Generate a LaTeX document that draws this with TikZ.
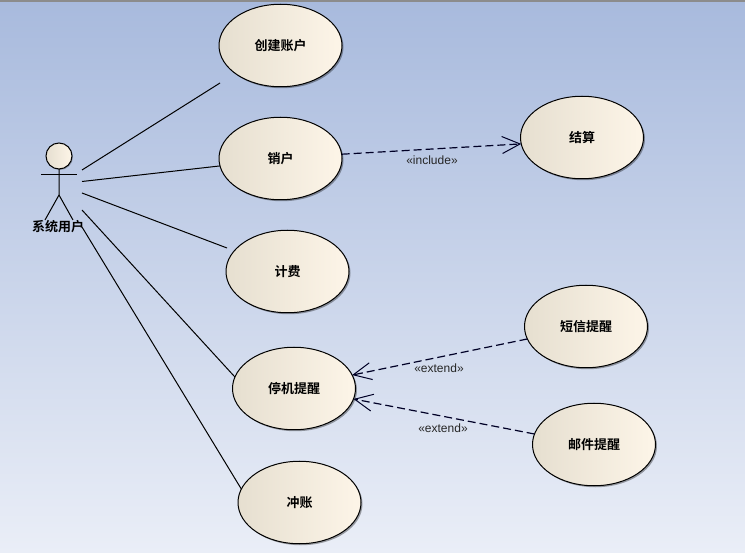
\documentclass[tikz,border=0pt]{standalone}
\usepackage{fontspec}
\setmainfont{Liberation Sans}
\newfontfamily\cjkbold[BoldFont={Noto Sans CJK SC Bold}]{Noto Sans CJK SC}
\usetikzlibrary{arrows.meta}
\usetikzlibrary{shadows}
\usetikzlibrary{shapes.geometric}
\definecolor{bgtop}{HTML}{A8BADD}
\definecolor{bgbot}{HTML}{EAEEF7}
\definecolor{caseleft}{HTML}{E6DFD0}
\definecolor{caseright}{HTML}{FDF5E8}
\tikzset{
    usecase/.style={ellipse, draw=black, line width=1pt, minimum width=123pt, minimum height=82.5pt,
        inner sep=0pt, outer sep=0pt, left color=caseleft, middle color=caseright!70!caseleft, right color=caseright,
        drop shadow={shadow xshift=1.5pt, shadow yshift=-1.5pt, opacity=0.35, fill=black},
        font=\cjkbold\bfseries\fontsize{13}{13}\selectfont},
    stereo/.style={inner sep=0pt, text=black!85, font=\fontsize{12}{12}\selectfont},
    assoc/.style={draw=black, line width=1pt},
    dep/.style={draw=black!85!blue, line width=1.2pt, dash pattern=on 8pt off 4pt,
        -{Straight Barb[length=18pt, width=17pt, line width=1pt]}},
}
\begin{document}
\begin{tikzpicture}[x=1pt, y=-1pt]

    \useasboundingbox (0,0) rectangle (745,553);
    \shade[top color=bgtop, bottom color=bgbot] (0,0) rectangle (745,553);
    \fill[black!45] (0,0) rectangle (745,2);

    \node[usecase] (create) at (280.5,45.5) {创建账户};
    \node[usecase] (cancel) at (280.5,158.5) {销户};
    \node[usecase] (settle) at (582,137.5) {结算};
    \node[usecase] (billing) at (287.5,271.5) {计费};
    \node[usecase] (suspend) at (294,388.5) {停机提醒};
    \node[usecase] (sms) at (586,326.5) {短信提醒};
    \node[usecase] (mail) at (594,444.5) {邮件提醒};
    \node[usecase] (reverse) at (299.5,502.5) {冲账};

    % actor
    \node[circle, draw=black, line width=1pt, minimum size=26pt, inner sep=0pt, outer sep=0pt,
        left color=caseleft, right color=caseright,
        drop shadow={shadow xshift=1pt, shadow yshift=-1pt, opacity=0.25, fill=black}] (head) at (59,156) {};
    \coordinate (hip) at (59,195);
    \coordinate (armL) at (41,175);
    \coordinate (armR) at (77,175);
    \coordinate (legL) at (45,220);
    \coordinate (legR) at (73,220);
    \draw[assoc] (head.south) -- (hip) -- (legL);
    \draw[assoc] (hip) -- (legR);
    \draw[assoc] (armL) -- (armR);
    \node[inner sep=0pt, font=\cjkbold\bfseries\fontsize{13}{13}\selectfont] (user) at (58,227) {系统用户};

    \coordinate (u1) at (82,170);
    \coordinate (u2) at (82,181.5);
    \coordinate (u3) at (82,193);
    \coordinate (u4) at (82,210);
    \coordinate (u5) at (82,227);
    \coordinate (gapA) at (220,83);
    \coordinate (gapB) at (227,248);

    \draw[assoc] (u1) -- (gapA);
    \draw[assoc] (u2) -- (cancel.187);
    \draw[assoc] (u3) -- (gapB);
    \draw[assoc] (u4) -- (suspend.169);
    \draw[assoc] (u5) -- (reverse.167);

    \draw[dep] (cancel.4) -- (settle.186);
    \draw[dep] (sms.192) -- (suspend.13);
    \draw[dep] (mail.170) -- (suspend.-10);

    \node[stereo] (inc) at (432,160) {«include»};
    \node[stereo] (ext1) at (439,368) {«extend»};
    \node[stereo] (ext2) at (443,428) {«extend»};

\end{tikzpicture}
\end{document}
